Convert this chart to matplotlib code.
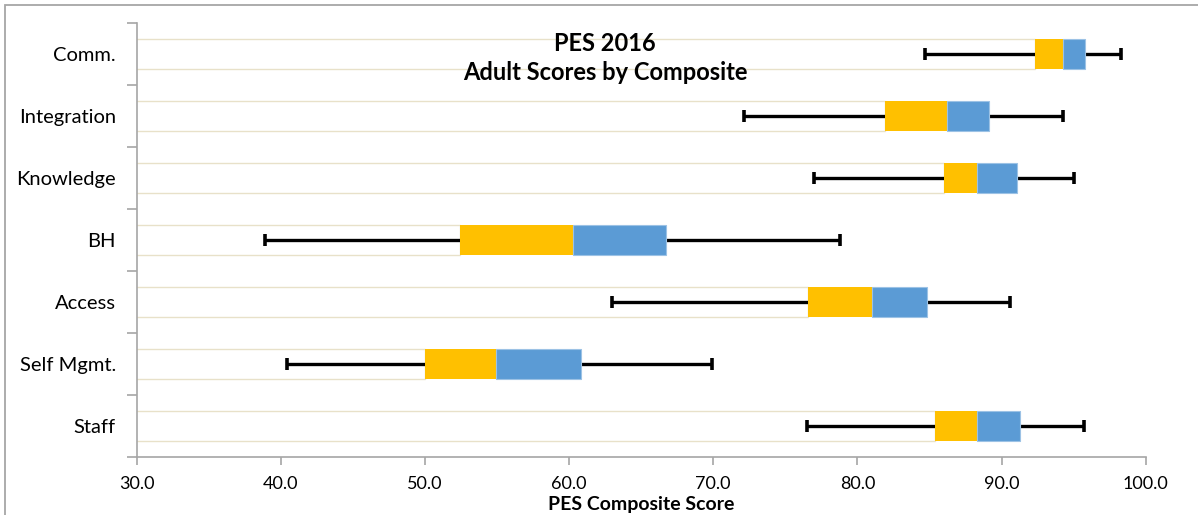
import matplotlib
matplotlib.use('Agg')
import matplotlib.pyplot as plt
from matplotlib.patches import Rectangle
import numpy as np

plt.rcParams['font.family'] = ['Lato', 'DejaVu Sans']

# top to bottom as in the chart
categories = ['Comm.', 'Integration', 'Knowledge', 'BH', 'Access', 'Self Mgmt.', 'Staff']
low = [84.7, 72.1, 77.0, 38.9, 63.0, 40.4, 76.5]
q1 = [92.3, 81.9, 86.0, 52.4, 76.6, 50.0, 85.4]
median = [94.3, 86.2, 88.3, 60.3, 81.0, 54.9, 88.3]
q3 = [95.8, 89.1, 91.1, 66.7, 84.8, 60.8, 91.3]
high = [98.3, 94.3, 95.0, 78.8, 90.6, 69.9, 95.7]
x_ticks = [30, 40, 50, 60, 70, 80, 90, 100]

low, q1, median, q3, high = map(np.array, (low, q1, median, q3, high))
y = np.arange(len(categories))[::-1]

fig = plt.figure(figsize=(11.98, 5.15), dpi=100)
ax = fig.add_axes([0.1141, 0.1126, 0.8422, 0.8427])

bar_h = 0.48
# invisible base bar, only its edges show (like the Excel stacked trick)
ax.barh(y, q1, left=0, height=bar_h, facecolor='none', edgecolor='#e8e1c9',
        linewidth=1.0, zorder=1)
ax.errorbar(median, y, xerr=[median - low, high - median], fmt='none',
            ecolor='black', elinewidth=2.4, capsize=4.5, capthick=2.6, zorder=2)
ax.barh(y, median - q1, left=q1, height=bar_h, color='#ffc000', zorder=3)
ax.barh(y, q3 - median, left=median, height=bar_h, color='#5b9bd5',
        edgecolor='#9cc2e5', linewidth=0.8, zorder=3)

ax.set_xlim(30, 100)
ax.set_ylim(-0.5, len(categories) - 0.5)
ax.set_xticks(x_ticks)
ax.set_xticklabels([f'{t:.1f}' for t in x_ticks], fontsize=13)
ax.set_yticks(y)
ax.set_yticklabels(categories, fontsize=14.5)
ax.set_yticks(np.arange(-0.5, len(categories), 1.0), minor=True)
ax.tick_params(axis='y', which='major', length=0, pad=15)
ax.tick_params(axis='y', which='minor', length=7, color='#a6a6a6', width=1.2)
ax.tick_params(axis='x', length=6, color='#a6a6a6', width=1.2, pad=8)

for s in ['top', 'right']:
    ax.spines[s].set_visible(False)
for s in ['left', 'bottom']:
    ax.spines[s].set_color('#a6a6a6')
    ax.spines[s].set_linewidth(1.2)

fig.text(0.505, 0.888, 'PES 2016\nAdult Scores by Composite', ha='center', va='center',
         fontsize=17, fontweight='bold', linespacing=1.3)
fig.text(0.535, 0.020, 'PES Composite Score', ha='center', va='center',
         fontsize=14, fontweight='bold')

fig.patches.append(Rectangle((5 / 1198, -0.2), 1.2, 1.2 - 5 / 515,
                             transform=fig.transFigure, fill=False,
                             edgecolor='#a6a6a6', linewidth=1.3))

fig.savefig('out.png', dpi=100)
